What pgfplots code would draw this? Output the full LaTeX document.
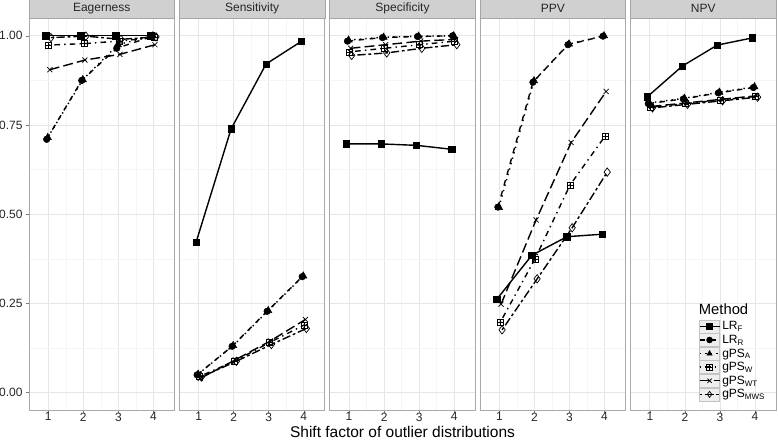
\documentclass[border=0pt]{standalone}
\usepackage{pgfplots}
\pgfplotsset{compat=1.18}
\usepackage{pgfplotstable}
\usepgfplotslibrary{groupplots}
\usetikzlibrary{plotmarks}
\usepackage{fontspec}
\setmainfont{Liberation Sans}

\definecolor{stripfill}{RGB}{208,208,208}
\definecolor{stripborder}{RGB}{165,165,165}
\definecolor{panelborder}{RGB}{170,170,170}
\definecolor{gridmajor}{RGB}{230,230,230}
\definecolor{gridminor}{RGB}{245,245,245}
\definecolor{keyfill}{RGB}{238,238,238}
\definecolor{keyborder}{RGB}{195,195,195}

\pgfdeclareplotmark{boxplus}{%
  \pgfpathrectangle{\pgfpoint{-\pgfplotmarksize}{-\pgfplotmarksize}}{\pgfpoint{2\pgfplotmarksize}{2\pgfplotmarksize}}%
  \pgfpathmoveto{\pgfpoint{-\pgfplotmarksize}{0pt}}\pgfpathlineto{\pgfpoint{\pgfplotmarksize}{0pt}}%
  \pgfpathmoveto{\pgfpoint{0pt}{-\pgfplotmarksize}}\pgfpathlineto{\pgfpoint{0pt}{\pgfplotmarksize}}%
  \pgfusepathqstroke}

\pgfplotstableread{
x LRF LRR gPSA gPSW gPSWT gPSMWS
1 1.000 0.710 0.715 0.974 0.905 0.995
2 1.000 0.875 0.877 0.978 0.932 0.999
3 1.000 0.965 0.975 0.985 0.948 0.990
4 1.000 0.998 1.000 0.995 0.975 0.997
}\eagerdata
\pgfplotstableread{
x LRF LRR gPSA gPSW gPSWT gPSMWS
1 0.421 0.050 0.052 0.045 0.040 0.044
2 0.739 0.130 0.132 0.088 0.092 0.088
3 0.921 0.228 0.230 0.140 0.145 0.135
4 0.984 0.325 0.327 0.190 0.205 0.180
}\sensdata
\pgfplotstableread{
x LRF LRR gPSA gPSW gPSWT gPSMWS
1 0.697 0.985 0.988 0.955 0.965 0.945
2 0.697 0.995 0.996 0.965 0.975 0.952
3 0.693 0.998 0.999 0.975 0.985 0.965
4 0.682 1.000 1.000 0.985 0.990 0.975
}\specdata
\pgfplotstableread{
x LRF LRR gPSA gPSW gPSWT gPSMWS
1 0.262 0.520 0.519 0.196 0.248 0.176
2 0.385 0.870 0.874 0.375 0.484 0.319
3 0.437 0.975 0.977 0.582 0.701 0.462
4 0.444 0.999 1.000 0.719 0.844 0.618
}\ppvdata
\pgfplotstableread{
x LRF LRR gPSA gPSW gPSWT gPSMWS
1 0.829 0.810 0.812 0.800 0.802 0.798
2 0.915 0.823 0.825 0.810 0.812 0.808
3 0.974 0.840 0.842 0.820 0.822 0.818
4 0.994 0.855 0.857 0.830 0.832 0.828
}\npvdata

\tikzset{
  sLRF/.style={black, solid, line width=1.4pt, mark=square*, mark size=3.2pt, mark options={solid, line width=0.5pt}},
  sLRR/.style={black, line width=1.4pt, dash pattern=on 5.6pt off 5.6pt, mark=*, mark size=3.3pt, mark options={solid, line width=0.5pt}},
  sgPSA/.style={black, line width=1.4pt, dash pattern=on 1.4pt off 4.2pt, mark=triangle*, mark size=4.2pt, mark options={solid, line width=0.5pt}},
  sgPSW/.style={black, line width=1.4pt, dash pattern=on 1.4pt off 4.2pt on 5.6pt off 4.2pt, mark=boxplus, mark size=3pt, mark options={solid, line width=0.6pt}},
  sgPSWT/.style={black, line width=1.4pt, dash pattern=on 9.8pt off 4.2pt, mark=x, mark size=3.6pt, mark options={solid, line width=0.7pt}},
  sgPSMWS/.style={black, line width=1.4pt, dash pattern=on 2.8pt off 2.8pt on 8.4pt off 2.8pt, mark=diamond, mark size=4.2pt, mark options={solid, line width=0.7pt, fill=white}},
}

\newcommand{\plotall}[1]{%
  \addplot[sLRF] table[x expr=\thisrow{x}-0.075, y=LRF] {#1};
  \addplot[sLRR] table[x expr=\thisrow{x}-0.045, y=LRR] {#1};
  \addplot[sgPSA] table[x expr=\thisrow{x}-0.015, y=gPSA] {#1};
  \addplot[sgPSW] table[x expr=\thisrow{x}+0.015, y=gPSW] {#1};
  \addplot[sgPSWT] table[x expr=\thisrow{x}+0.045, y=gPSWT] {#1};
  \addplot[sgPSMWS] table[x expr=\thisrow{x}+0.075, y=gPSMWS] {#1};
}

\begin{document}
\begin{tikzpicture}
\begin{groupplot}[
  group style={group size=5 by 1, horizontal sep=5pt},
  scale only axis,
  width=145.4pt, height=391.7pt,
  xmin=0.45, xmax=4.6,
  ymin=-0.0485, ymax=1.049,
  xtick={1,2,3,4},
  ytick={0,0.25,0.5,0.75,1},
  minor xtick={1.5,2.5,3.5},
  minor ytick={0.125,0.375,0.625,0.875},
  grid=both,
  major grid style={gridmajor, line width=0.8pt},
  minor grid style={gridminor, line width=0.5pt},
  minor tick length=0pt,
  major tick length=3pt,
  tick align=outside,
  tick pos=left,
  tick style={panelborder!70!black, line width=0.5pt},
  axis line style={panelborder, line width=0.8pt},
  /pgf/number format/assume math mode=true,
  ticklabel style={font=\fontsize{12}{12}\selectfont, text=black!85},
  yticklabel style={/pgf/number format/.cd, fixed, fixed zerofill, precision=2},
  xticklabel style={yshift=1.5pt, inner sep=1pt},
  every axis title shift=0pt,
  title style={at={(rel axis cs:0.5,1)}, anchor=south, draw=stripborder, line width=0.6pt, fill=stripfill,
    minimum width=145.4pt, minimum height=18.3pt, inner sep=0pt,
    font=\fontsize{12}{12}\selectfont, text=black!85},
  xlabel style={font=\fontsize{15.5}{16}\selectfont, at={(rel axis cs:0.5,0)}, anchor=base, yshift=-27pt, inner sep=0pt},
  clip=false,
]
\nextgroupplot[title=Eagerness]
\coordinate (A) at (rel axis cs:0,0);
\plotall{\eagerdata}
\nextgroupplot[title=Sensitivity, yticklabels={}, ytick style={draw=none}]
\plotall{\sensdata}
\nextgroupplot[title=Specificity, yticklabels={}, ytick style={draw=none},
  xlabel={Shift factor of outlier distributions}]
\plotall{\specdata}
\nextgroupplot[title=PPV, yticklabels={}, ytick style={draw=none}]
\plotall{\ppvdata}
\nextgroupplot[title=NPV, yticklabels={}, ytick style={draw=none},
  legend style={at={(rel axis cs:0.468,0.022)}, anchor=south west, draw=none, fill=none,
    font=\fontsize{12}{12}\selectfont, row sep=0pt, inner sep=0pt,
    nodes={inner sep=0pt}, /tikz/every odd column/.append style={column sep=2pt}},
  legend cell align=left,
  legend image code/.code={%
    \draw[draw=keyborder, fill=keyfill, solid, line width=0.6pt] (0pt,-6.5pt) rectangle (20pt,6.5pt);
    \draw[mark repeat=2, mark phase=2, #1, mark size=3pt] plot coordinates {(0pt,0pt) (10pt,0pt) (20pt,0pt)};},
]
\plotall{\npvdata}
\legend{LR\textsubscript{F}, LR\textsubscript{R}, gPS\textsubscript{A}, gPS\textsubscript{W}, gPS\textsubscript{WT}, gPS\textsubscript{MWS}}
\node[anchor=base west, inner sep=0pt, font=\fontsize{14.8}{15}\selectfont] at (rel axis cs:0.468,0.244) {Method};
\end{groupplot}
\pgfresetboundingbox
\path[use as bounding box] ($(A)+(-29pt,-29pt)$) rectangle ($(A)+(749pt,410pt)$);
\end{tikzpicture}
\end{document}
